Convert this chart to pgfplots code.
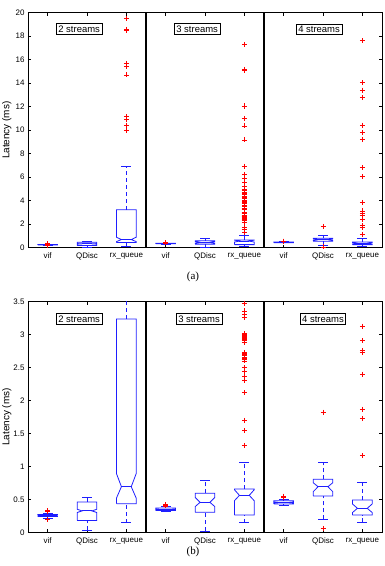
\documentclass[border=0pt]{standalone}
\usepackage{fontspec}
\setmainfont{Liberation Sans}
\newfontfamily\capfont{Liberation Serif}
\usepackage{pgfplots}
\pgfplotsset{compat=1.18}

\definecolor{boxblue}{RGB}{30,30,255}
\definecolor{outred}{RGB}{255,0,0}

\tikzset{
  streamlabel/.style={draw=black, fill=white, line width=0.6bp,
    font=\fontsize{9.5}{11}\selectfont, inner xsep=2bp, inner ysep=2bp},
  whisk/.style={draw=boxblue, color=boxblue, dash pattern=on 4bp off 3bp},
}

\pgfplotsset{
  bxline/.style={color=boxblue, draw=boxblue, line width=0.8bp, mark=none, solid},
  outl/.style={only marks, mark=+, mark size=2.5bp, color=outred, mark options={line width=0.75bp, solid, draw=outred}},
  latbox/.style={
    scale only axis, width=354bp, anchor=south west,
    xmin=0.5, xmax=9.5, xtick={1,2,3,4,5,6,7,8,9},
    xticklabels={vif,QDisc,rx\_queue,vif,QDisc,rx\_queue,vif,QDisc,rx\_queue},
    tick label style={font=\fontsize{8}{9.5}\selectfont},
    /pgf/number format/assume math mode=true,
    xticklabel style={yshift=-2bp},
    major tick length=3bp,
    tick style={black, line width=0.5bp},
    axis line style={black, line width=0.8bp},
    ylabel={Latency (ms)},
    ylabel style={font=\fontsize{7.8}{9}\selectfont},
    every axis y label/.style={at={(axis description cs:-0.06,0.5)}, rotate=90, anchor=center},
    clip=true,
  },
}

% Notched box: x, lower whisker, q1, notch low, median, notch high, q3, upper whisker
\newcommand{\nbox}[8]{%
  \pgfmathsetmacro\xa{#1-0.25}%
  \pgfmathsetmacro\xb{#1+0.25}%
  \pgfmathsetmacro\xc{#1-0.125}%
  \pgfmathsetmacro\xd{#1+0.125}%
  \edef\tmp{%
    \noexpand\addplot[bxline, whisk] coordinates {(#1,#7) (#1,#8)};
    \noexpand\addplot[bxline, whisk] coordinates {(#1,#2) (#1,#3)};
    \noexpand\addplot[bxline] coordinates {(\xc,#8) (\xd,#8)};
    \noexpand\addplot[bxline] coordinates {(\xc,#2) (\xd,#2)};
    \noexpand\addplot[bxline] coordinates {(\xa,#3) (\xb,#3) (\xb,#4) (\xd,#5) (\xb,#6) (\xb,#7) (\xa,#7) (\xa,#6) (\xc,#5) (\xa,#4) (\xa,#3)};
    \noexpand\addplot[bxline] coordinates {(\xc,#5) (\xd,#5)};
  }\tmp
}

% Latency data, three groups (2, 3, 4 streams) of vif / QDisc / rx_queue
\newcommand{\latencydata}{%
  % 2 streams
  \nbox{1}{0.21}{0.24}{0.245}{0.255}{0.265}{0.27}{0.29}
  \nbox{2}{0.03}{0.18}{0.30}{0.325}{0.35}{0.46}{0.53}
  \nbox{3}{0.146}{0.434}{0.52}{0.692}{0.89}{3.237}{6.95}
  % 3 streams
  \nbox{4}{0.31}{0.33}{0.338}{0.345}{0.352}{0.37}{0.39}
  \nbox{5}{0.02}{0.303}{0.39}{0.455}{0.53}{0.592}{0.783}
  \nbox{6}{0.146}{0.262}{0.48}{0.561}{0.645}{0.657}{1.056}
  % 4 streams
  \nbox{7}{0.414}{0.43}{0.445}{0.452}{0.46}{0.48}{0.50}
  \nbox{8}{0.197}{0.551}{0.616}{0.692}{0.753}{0.804}{1.056}
  \nbox{9}{0.152}{0.262}{0.30}{0.364}{0.43}{0.49}{0.753}
  % outliers
  \addplot[outl] coordinates {(1,0.32) (1,0.31) (1,0.33) (1,0.19) (1,0.20)};
  \addplot[outl] coordinates {(3,9.96) (3,10.44) (3,10.93) (3,11.15) (3,14.70)
    (3,15.46) (3,15.69) (3,18.47) (3,18.58) (3,19.52)};
  \addplot[outl] coordinates {(4,0.40) (4,0.41) (4,0.42)};
  \addplot[outl] coordinates {(6,1.32) (6,1.54) (6,1.70) (6,2.12) (6,2.31) (6,2.37)
    (6,2.44) (6,2.50) (6,2.60) (6,2.62) (6,2.63) (6,2.64) (6,2.66) (6,2.68) (6,2.70)
    (6,2.71) (6,2.73) (6,2.88) (6,2.92) (6,2.93) (6,2.95) (6,2.96) (6,2.97) (6,2.99)
    (6,3.00) (6,3.02) (6,3.26) (6,3.31) (6,3.36) (6,3.48) (6,3.62) (6,3.75) (6,3.83)
    (6,3.96) (6,4.05) (6,4.18) (6,4.27) (6,4.40) (6,4.52) (6,4.61) (6,4.73) (6,4.86)
    (6,4.95) (6,5.19) (6,5.53) (6,5.91) (6,6.25) (6,6.95) (6,9.17) (6,10.36)
    (6,11.01) (6,12.00) (6,12.06) (6,15.12) (6,15.18) (6,17.31)};
  \addplot[outl] coordinates {(7,0.53) (7,0.54) (7,0.55)};
  \addplot[outl] coordinates {(8,1.825) (8,0.06)};
  \addplot[outl] coordinates {(9,1.16) (9,1.73) (9,1.87) (9,2.40) (9,2.73) (9,2.76)
    (9,2.91) (9,3.13) (9,3.86) (9,6.04) (9,6.84) (9,9.22) (9,9.79) (9,10.44)
    (9,12.80) (9,13.42) (9,14.04) (9,17.62)};
}

\begin{document}
\begin{tikzpicture}
\useasboundingbox (0,0) rectangle (385bp,566bp);

% (a) full range
\begin{axis}[latbox, at={(28bp,318.3bp)}, height=235bp,
  ymin=0, ymax=20, ytick={0,2,4,6,8,10,12,14,16,18,20}]
  \latencydata
  \addplot[black, line width=1.1bp] coordinates {(3.5,0) (3.5,20)};
  \addplot[black, line width=1.1bp] coordinates {(6.5,0) (6.5,20)};
  \node[streamlabel] at (axis cs:1.8,18.6) {2 streams};
  \node[streamlabel] at (axis cs:4.8,18.6) {3 streams};
  \node[streamlabel] at (axis cs:7.9,18.6) {4 streams};
\end{axis}
\node[font=\capfont\fontsize{11}{13}\selectfont] at (193bp,289bp) {(a)};

% (b) zoom on 0--3.5 ms
\begin{axis}[latbox, at={(28bp,33.7bp)}, height=230.6bp,
  ymin=0, ymax=3.5, ytick={0,0.5,1,1.5,2,2.5,3,3.5}]
  \latencydata
  \addplot[black, line width=1.1bp] coordinates {(3.5,0) (3.5,3.5)};
  \addplot[black, line width=1.1bp] coordinates {(6.5,0) (6.5,3.5)};
  \node[streamlabel] at (axis cs:1.8,3.24) {2 streams};
  \node[streamlabel] at (axis cs:4.85,3.24) {3 streams};
  \node[streamlabel] at (axis cs:8.0,3.24) {4 streams};
\end{axis}
\node[font=\capfont\fontsize{11}{13}\selectfont] at (193bp,14bp) {(b)};
\end{tikzpicture}
\end{document}
